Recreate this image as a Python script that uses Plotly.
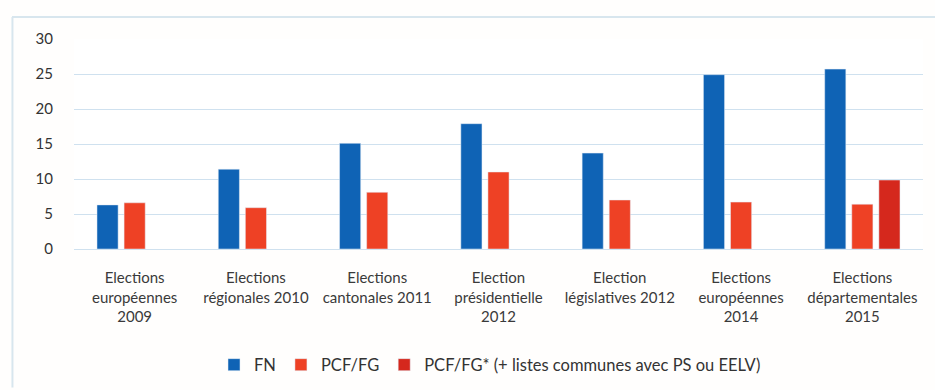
import plotly.graph_objects as go

categories = [
    "Elections<br>européennes<br>2009",
    "Elections<br>régionales 2010",
    "Elections<br>cantonales 2011",
    "Election<br>présidentielle<br>2012",
    "Election<br>législatives 2012",
    "Elections<br>européennes<br>2014",
    "Elections<br>départementales<br>2015",
]
fn_values = [6.3, 11.4, 15.1, 17.9, 13.7, 24.9, 25.7]
pcf_values = [6.6, 5.9, 8.1, 11.0, 7.0, 6.7, 6.4]
pcf_star_values = [None, None, None, None, None, None, 9.85]
y_ticks = [0, 5, 10, 15, 20, 25, 30]

FONT = "Lato"

fig = go.Figure()
fig.add_trace(go.Bar(name="FN", x=categories, y=fn_values, marker_color="#0f63b5"))
fig.add_trace(go.Bar(name="PCF/FG", x=categories, y=pcf_values, marker_color="#ee4125"))
fig.add_trace(go.Bar(name="PCF/FG* (+ listes communes avec PS ou EELV)", x=categories,
                     y=pcf_star_values, marker_color="#d5281d"))

fig.update_layout(
    width=935, height=390,
    margin=dict(l=74, r=12, t=39, b=141, autoexpand=False),
    paper_bgcolor="#fffefd", plot_bgcolor="#ffffff",
    barmode="group", bargap=0.33, bargroupgap=0.22,
    font=dict(family=FONT, color="#3a3a3a"),
    showlegend=True,
    legend=dict(orientation="h", x=0.49, xanchor="center", y=-0.552, yanchor="middle",
                font=dict(size=16.5, family=FONT, color="#333333"),
                itemwidth=30, traceorder="normal"),
    xaxis=dict(tickfont=dict(size=15, family=FONT, color="#3a3a3a"), showgrid=False,
               showline=False, ticks="", tickangle=0, ticklabelstandoff=18, automargin=False),
    yaxis=dict(range=[0, 30], tickvals=y_ticks, tickfont=dict(size=15, family=FONT, color="#333333"),
               gridcolor="#cfe1ef", gridwidth=1.3, zeroline=True, zerolinecolor="#cfe1ef",
               zerolinewidth=1.3, showline=False, ticks="", ticklabelstandoff=20, automargin=False),
)

# outer frame lines (left and top)
fig.add_shape(type="line", xref="paper", yref="paper", x0=-0.073, x1=1.02, y0=1.105, y1=1.105,
              line=dict(color="#d8e6ee", width=2))
fig.add_shape(type="line", xref="paper", yref="paper", x0=-0.0725, x1=-0.0725, y0=-0.66, y1=1.105,
              line=dict(color="#d8e6ee", width=2))

fig.write_html("out.html")
